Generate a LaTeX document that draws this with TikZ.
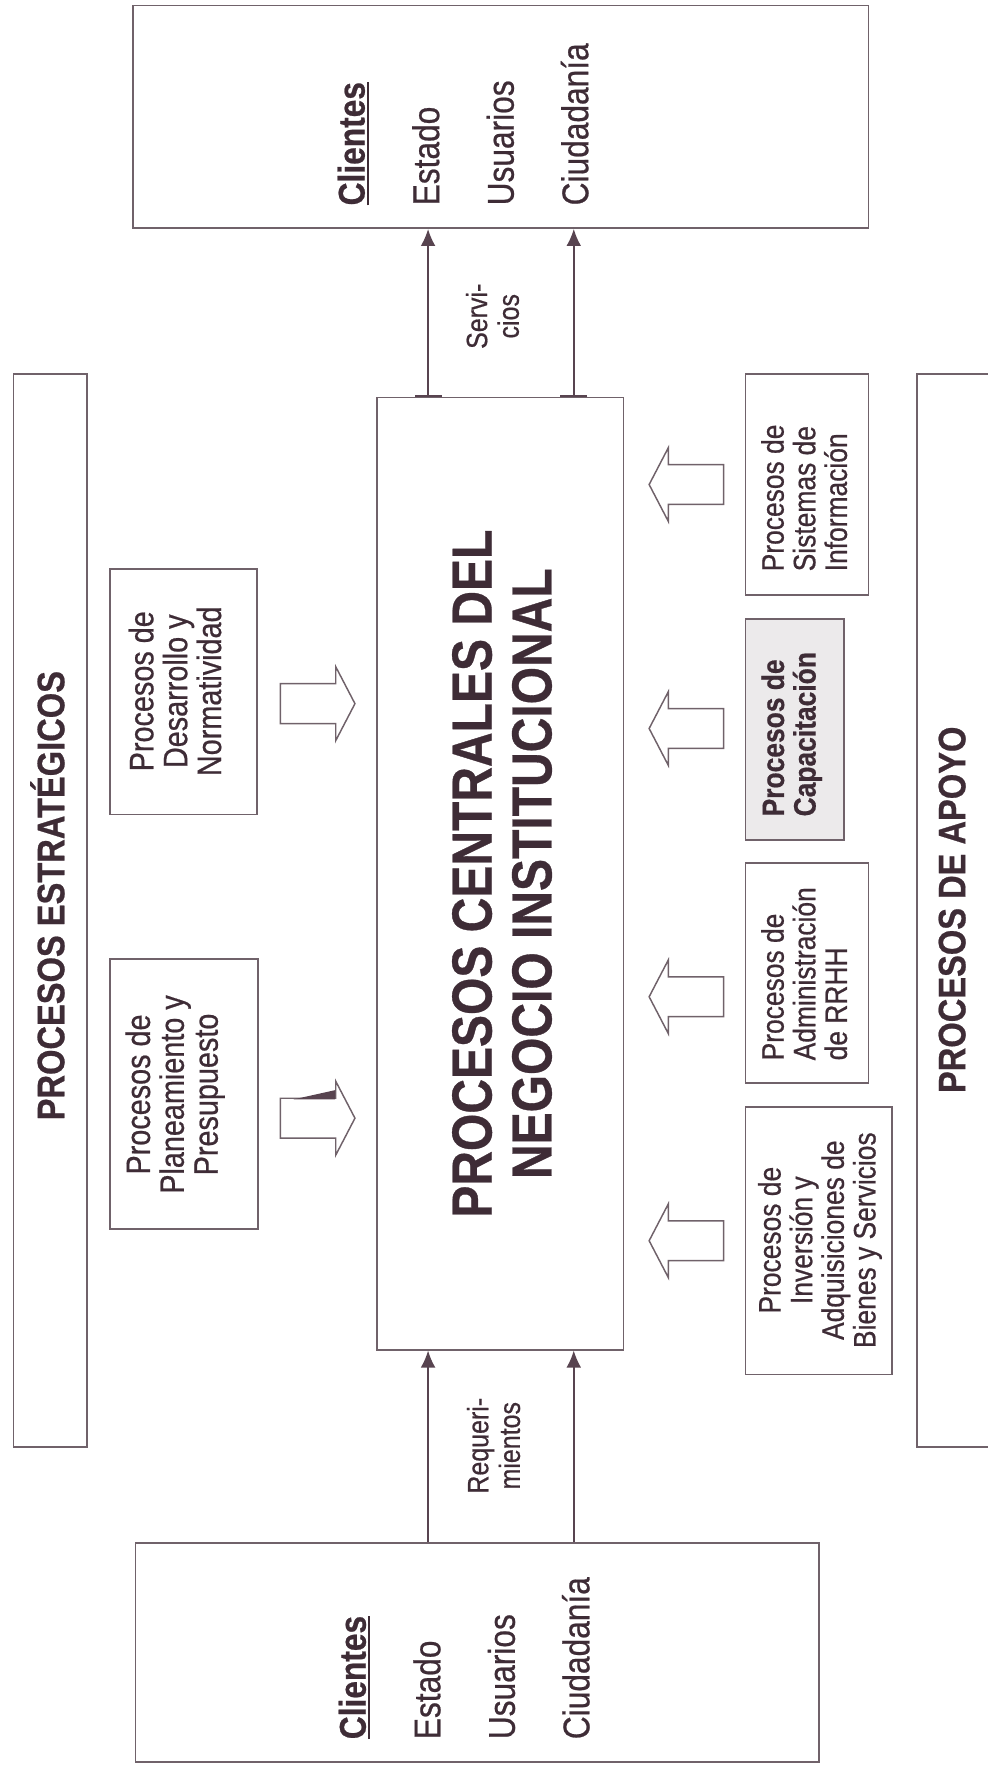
\documentclass[tikz,border=0pt]{standalone}
\usepackage{fontspec}
\setmainfont{Liberation Sans}[FakeStretch=0.85, FakeBold=0.6]
\usepackage{tikz}
\usetikzlibrary{shapes.arrows,arrows.meta}
\definecolor{linea}{RGB}{112,98,106}
\definecolor{flecha}{RGB}{88,68,80}
\definecolor{tinta}{RGB}{62,44,54}
\definecolor{grisclaro}{RGB}{236,234,235}
\tikzstyle{caja}=[rectangle, draw=linea, line width=1.5pt, inner sep=0pt]
\tikzstyle{cajagris}=[caja, fill=grisclaro]
\tikzstyle{rotulo}=[rotate=90, inner sep=0pt, text=tinta]
\tikzstyle{flechahueca}=[single arrow, draw=linea, line width=1.3pt, fill=white, minimum height=66pt, inner xsep=0pt, inner ysep=17pt, single arrow head extend=15pt, single arrow tip angle=125, anchor=tip]
\tikzstyle{conector}=[draw=flecha, line width=1.3pt, -{Latex[length=15pt,width=13pt]}]
\tikzstyle{conectorsup}=[draw=flecha, line width=1.3pt, {Bar[width=24pt]}-{Latex[length=15pt,width=13pt]}]
\newcommand{\fclientes}{\fontsize{33}{66}\selectfont}
\newcommand{\ftitulo}{\fontsize{50}{53}\selectfont\bfseries}
\newcommand{\fseccion}{\fontsize{34}{40}\selectfont\bfseries}
\newcommand{\fproc}{\fontsize{30}{30}\selectfont}
\newcommand{\fapoyo}{\fontsize{27.5}{28}\selectfont}
\newcommand{\fflujo}{\fontsize{26}{28}\selectfont}
\newcommand{\subrayado}[1]{\leavevmode\setbox0=\hbox{#1}\rlap{\rule[-4pt]{\wd0}{2.2pt}}\box0}
\begin{document}
\begin{tikzpicture}[x=1pt,y=-1pt]
\useasboundingbox (0,0) rectangle (874,1568);

\node[caja, minimum width=651pt, minimum height=197pt] (clisup) at (443.5,103.5) {};
\node[rotulo, anchor=west, align=left, font=\fclientes] (clisupt) at (410,182) {\subrayado{\textbf{Clientes}}\\Estado\\Usuarios\\Ciudadanía};
\node[caja, minimum width=605pt, minimum height=194pt] (cliinf) at (422.5,1463) {};
\node[rotulo, anchor=west, align=left, font=\fclientes] (cliinft) at (411,1540) {\subrayado{\textbf{Clientes}}\\Estado\\Usuarios\\Ciudadanía};

\node[caja, minimum width=65pt, minimum height=950pt] (estr) at (44.5,806) {};
\node[rotulo, font=\fseccion] (estrt) at (42,793) {PROCESOS ESTRATÉGICOS};
\node[caja, minimum width=100pt, minimum height=950pt] (apoyo) at (862,806) {};
\node[rotulo, font=\fseccion] (apoyot) at (843,805.5) {PROCESOS DE APOYO};

\node[caja, minimum width=218pt, minimum height=843pt] (cen) at (443,773.5) {};
\node[rotulo, align=center, font=\ftitulo] (cent) at (444.5,773.5) {PROCESOS CENTRALES DEL\\NEGOCIO INSTITUCIONAL};

\node[caja, minimum width=130pt, minimum height=217pt] (des) at (162.5,612.5) {};
\node[rotulo, align=center, font=\fproc] (dest) at (155,612) {Procesos de\\Desarrollo y\\Normatividad};
\node[caja, minimum width=131pt, minimum height=239pt] (pla) at (163,968.5) {};
\node[rotulo, align=center, font=\fproc] (plat) at (155,969) {Procesos de\\Planeamiento y\\Presupuesto};

\node[caja, minimum width=109pt, minimum height=196pt] (sis) at (714.5,429) {};
\node[rotulo, anchor=west, align=left, font=\fapoyo] (sist) at (712,506) {Procesos de\\Sistemas de\\Información};
\node[cajagris, minimum width=87pt, minimum height=196pt] (cap) at (703.5,646) {};
\node[rotulo, anchor=west, align=left, font=\fapoyo\bfseries] (capt) at (701,723) {Procesos de\\Capacitación};
\node[caja, minimum width=109pt, minimum height=195pt] (rrhh) at (714.5,861.5) {};
\node[rotulo, anchor=west, align=left, font=\fapoyo] (rrhht) at (712,939) {Procesos de\\Administración\\de RRHH};
\node[caja, minimum width=130pt, minimum height=237pt] (inv) at (725,1098.5) {};
\node[rotulo, align=center, font=\fapoyo] (invt) at (726,1098) {Procesos de\\Inversión y\\Adquisiciones de\\Bienes y Servicios};

\node[flechahueca] (fdes) at (315,623) {};
\node[flechahueca] (fpla) at (315,990) {};
\fill[flecha] (259.7,973.4) -- (296.6,965.2) -- (296.6,973.4) -- cycle;
\node[flechahueca, rotate=180] (fsis) at (574,429) {};
\node[flechahueca, rotate=180] (fcap) at (574,645) {};
\node[flechahueca, rotate=180] (frrhh) at (574,882.5) {};
\node[flechahueca, rotate=180] (finv) at (574,1098.5) {};

\coordinate (c1) at (379,0);
\coordinate (c2) at (508,0);
\draw[conectorsup] (cen.north -| c1) -- (clisup.south -| c1);
\draw[conectorsup] (cen.north -| c2) -- (clisup.south -| c2);
\draw[conector] (cliinf.north -| c1) -- (cen.south -| c1);
\draw[conector] (cliinf.north -| c2) -- (cen.south -| c2);
\node[rotulo, align=center, font=\fflujo] (serv) at (436,280) {Servi-\\cios};
\node[rotulo, align=center, font=\fflujo] (req) at (437,1280) {Requeri-\\mientos};
\end{tikzpicture}
\end{document}
